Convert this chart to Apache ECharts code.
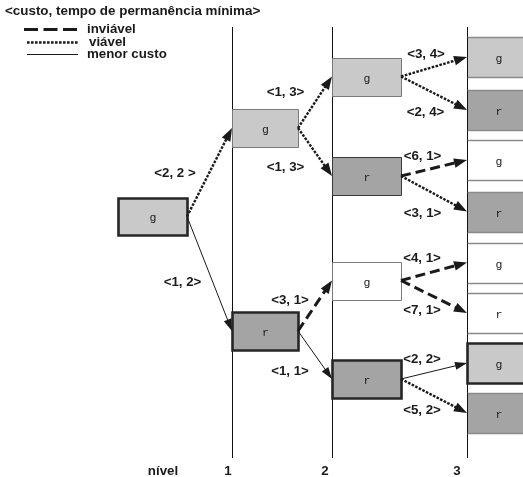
<!DOCTYPE html>
<html><head><meta charset="utf-8">
<script src="https://cdn.jsdelivr.net/npm/echarts@6/dist/echarts.min.js"></script>
<style>html,body{margin:0;padding:0;background:#fff}#c{width:523px;height:477px}</style>
</head><body><div id="c"></div><script>
// ---------- data ----------
const titleText = '<custo, tempo de permanência mínima>';
const legendNames = ['inviável', 'viável', 'menor custo'];
const levelNames = ['nível', '1', '2', '3'];
// nodes of the tree
const nodeLevel = [0, 1, 1, 2, 2, 2, 2, 3, 3, 3, 3, 3, 3, 3, 3];
const nodeState = ['g', 'g', 'r', 'g', 'r', 'g', 'r', 'g', 'r', 'g', 'r', 'g', 'r', 'g', 'r'];
const nodeShade = ['light', 'light', 'dark', 'light', 'dark', 'white', 'dark', 'light', 'dark', 'white', 'dark', 'white', 'white', 'light', 'dark'];
const nodeBold = [1, 0, 1, 0, 0, 0, 1, 0, 0, 0, 0, 0, 0, 1, 0];
const nodeRow = [216.5, 128, 331, 76.5, 176, 280.5, 379, 57, 110, 160, 211.5, 262.5, 313, 363, 413];
// edges of the tree
const edgeFrom = [0, 0, 1, 1, 2, 2, 3, 3, 4, 4, 5, 5, 6, 6];
const edgeTo = [1, 2, 3, 4, 5, 6, 7, 8, 9, 10, 11, 12, 13, 14];
const edgeLabel = ['<2, 2 >', '<1, 2>', '<1, 3>', '<1, 3>', '<3, 1>', '<1, 1>', '<3, 4>', '<2, 4>', '<6, 1>', '<3, 1>', '<4, 1>', '<7, 1>', '<2, 2>', '<5, 2>'];
const edgeKind = ['viável', 'menor custo', 'viável', 'viável', 'inviável', 'menor custo', 'viável', 'viável', 'inviável', 'viável', 'inviável', 'inviável', 'menor custo', 'viável'];

// ---------- layout (diagram units) ----------
const levelLeft = [118, 232, 332, 467];
const levelWidth = [69, 66, 69, 63];
const levelBoxH = [37, 38, 38, 40];
const levelLineTop = 27, levelLineBottom = 458;
const levelLabelX = [163, 228, 325, 457], levelLabelY = 471;
const labelDx = [-34.5, -27, -29.5, -29.5, -25, -25, -8, -8.5, -11.5, -11.5, -12, -12, -12, -12];
const labelDy = [1, 8.5, -10, 15, -5, 16.5, -12, 19.5, -12, 20, -13, 13.5, -12, 14];

const shadeColor = { light: '#c9c9c9', dark: '#a4a4a4', white: '#ffffff' };
const lineKind = {
  'inviável': { width: 3, dash: [10, 5] },
  'viável': { width: 2.4, dash: [2.6, 1.4] },
  'menor custo': { width: 1, dash: null }
};
const ink = '#1a1a1a';
const labelFont = 'bold 13.3px "Liberation Sans", Arial, sans-serif';

const chart = echarts.init(document.getElementById('c'), null, { renderer: 'canvas' });

const lineData = levelLeft.slice(1).map((x, i) => [x, levelLineTop, levelLineBottom]);
const nodeData = nodeLevel.map((lv, i) => [levelLeft[lv], nodeRow[i], i]);
const edgeData = edgeFrom.map((f, i) => {
  const t = edgeTo[i];
  return [levelLeft[nodeLevel[f]] + levelWidth[nodeLevel[f]], nodeRow[f], levelLeft[nodeLevel[t]], nodeRow[t], i];
});

function renderLevelLine(params, api) {
  const a = api.coord([api.value(0), api.value(1)]);
  const b = api.coord([api.value(0), api.value(2)]);
  return { type: 'line', shape: { x1: Math.round(a[0]) + 0.5, y1: a[1], x2: Math.round(b[0]) + 0.5, y2: b[1] }, style: { stroke: '#111', lineWidth: 1 } };
}

function renderNode(params, api) {
  const i = api.value(2);
  const lv = nodeLevel[i];
  const p = api.coord([api.value(0), api.value(1)]);
  const sz = api.size([levelWidth[lv], levelBoxH[lv]]);
  const x = Math.round(p[0]) + 0.5, y = Math.round(p[1] - sz[1] / 2) + 0.5;
  const w = Math.round(sz[0]), h = Math.round(sz[1]);
  const fill = shadeColor[nodeShade[i]];
  const children = [];
  if (lv === 3 && !nodeBold[i]) {
    children.push({ type: 'rect', shape: { x: x, y: y, width: w, height: h }, style: { fill: fill, stroke: null } });
    children.push({ type: 'line', shape: { x1: x, y1: y, x2: x + w, y2: y }, style: { stroke: '#8a8a8a', lineWidth: 1.5 } });
    children.push({ type: 'line', shape: { x1: x, y1: y + h, x2: x + w, y2: y + h }, style: { stroke: '#8a8a8a', lineWidth: 1.5 } });
    children.push({ type: 'line', shape: { x1: x, y1: y, x2: x, y2: y + h }, style: { stroke: '#111', lineWidth: 1 } });
  } else {
    const bold = nodeBold[i];
    const stroke = bold ? '#262626' : (nodeShade[i] === 'dark' ? '#3a3a3a' : '#7a7a7a');
    children.push({ type: 'rect', shape: { x: x, y: y, width: w, height: h }, style: { fill: fill, stroke: stroke, lineWidth: bold ? 2.6 : 1 } });
  }
  children.push({
    type: 'text',
    style: { x: x + w / 2, y: y + h / 2 + 1, text: nodeState[i], align: 'center', verticalAlign: 'middle', font: '11.5px "Liberation Mono", "Courier New", monospace', fill: '#222' }
  });
  return { type: 'group', children: children };
}

function renderEdge(params, api) {
  const i = api.value(4);
  const a = api.coord([api.value(0), api.value(1)]);
  const b = api.coord([api.value(2), api.value(3)]);
  const dx = b[0] - a[0], dy = b[1] - a[1];
  const len = Math.sqrt(dx * dx + dy * dy);
  const ux = dx / len, uy = dy / len;
  const kind = lineKind[edgeKind[i]];
  const L = kind.dash ? 13 : 12, hw = kind.dash ? 4.8 : 4;
  const bx = b[0] - ux * L, by = b[1] - uy * L;
  const px = -uy, py = ux;
  const children = [
    { type: 'line', shape: { x1: a[0], y1: a[1], x2: bx + ux * 2, y2: by + uy * 2 }, style: { stroke: ink, lineWidth: kind.width, lineDash: kind.dash, lineCap: 'butt' } },
    { type: 'polygon', shape: { points: [[b[0], b[1]], [bx + px * hw, by + py * hw], [bx - px * hw, by - py * hw]] }, style: { fill: ink } }
  ];
  const mid = api.coord([(api.value(0) + api.value(2)) / 2 + labelDx[i], (api.value(1) + api.value(3)) / 2 + labelDy[i]]);
  children.push({ type: 'text', style: { x: mid[0], y: mid[1], text: edgeLabel[i], align: 'center', verticalAlign: 'middle', font: labelFont, fill: ink } });
  return { type: 'group', children: children };
}

const graphics = [
  { type: 'text', left: 5, top: 5, style: { text: titleText, font: 'bold 13.4px "Liberation Sans", Arial, sans-serif', fill: ink } }
];
const legendY = [29.5, 42.5, 54.5];
const legendKinds = ['inviável', 'viável', 'menor custo'];
legendKinds.forEach((k, j) => {
  const kind = lineKind[k];
  graphics.push({ type: 'line', shape: { x1: j === 0 ? 24 : 27, y1: legendY[j], x2: 78, y2: legendY[j] },
    style: { stroke: ink, lineWidth: j === 0 ? 3 : kind.width, lineDash: j === 0 ? [14, 5.5] : kind.dash } });
  graphics.push({ type: 'text', x: j === 1 ? 89 : 87, y: legendY[j], style: { text: legendNames[j], font: labelFont, fill: ink, verticalAlign: 'middle' } });
});
levelNames.forEach((t, j) => {
  graphics.push({ type: 'text', x: levelLabelX[j], y: levelLabelY, style: { text: t, font: labelFont, fill: ink, align: 'center', verticalAlign: 'middle' } });
});

chart.setOption({
  animation: false,
  backgroundColor: '#fff',
  grid: { left: 0, right: 0, top: 0, bottom: 0 },
  xAxis: { type: 'value', min: 0, max: 523, show: false },
  yAxis: { type: 'value', min: 0, max: 477, inverse: true, show: false },
  graphic: graphics,
  series: [
    { type: 'custom', coordinateSystem: 'cartesian2d', data: lineData, renderItem: renderLevelLine, z: 1, silent: true },
    { type: 'custom', coordinateSystem: 'cartesian2d', data: nodeData, renderItem: renderNode, z: 2, silent: true, clip: true },
    { type: 'custom', coordinateSystem: 'cartesian2d', data: edgeData, renderItem: renderEdge, z: 3, silent: true }
  ]
});
</script></body></html>
